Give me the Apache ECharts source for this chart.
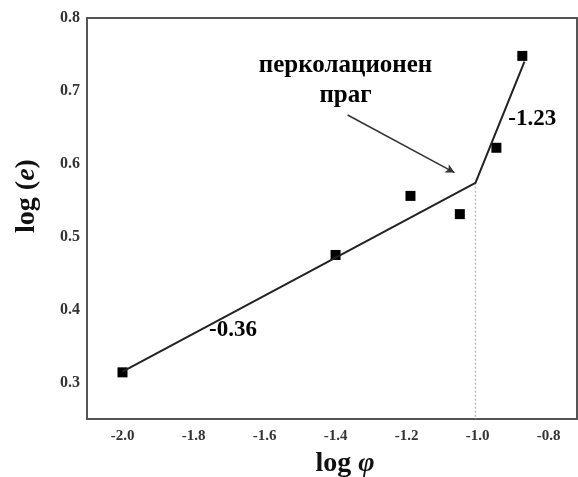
<!DOCTYPE html>
<html><head><meta charset="utf-8">
<script src="https://cdn.jsdelivr.net/npm/echarts@6/dist/echarts.min.js"></script>
<style>html,body{margin:0;padding:0;background:#fff}#c{width:578px;height:477px}</style>
</head><body><div id="c"></div>
<script>
// data
const pointsX = [-2.0, -1.4, -1.189, -1.05, -0.947, -0.874];
const pointsY = [0.314, 0.475, 0.556, 0.531, 0.622, 0.748];
const fitX = [-2.0, -1.006, -0.868];
const fitY = [0.315, 0.574, 0.740];
const thresholdX = -1.006;
const arrowFrom = [-1.366, 0.667];
const arrowTo = [-1.065, 0.588];
const annotations = [
  {text: 'перколационен\nпраг', x: -1.372, y: 0.714, size: 25},
  {text: '-1.23', x: -0.846, y: 0.661, size: 23},
  {text: '-0.36', x: -1.689, y: 0.372, size: 23}
];
const xMin = -2.1, xMax = -0.72, yMin = 0.25, yMax = 0.8;

const serif = '"Liberation Serif","DejaVu Serif",serif';
const nameRich = {
  a: {fontFamily: serif, fontWeight: 'bold', fontSize: 28, fill: '#111', color: '#111'},
  b: {fontFamily: serif, fontWeight: 'bold', fontStyle: 'italic', fontSize: 28, fill: '#111', color: '#111'}
};
const chart = echarts.init(document.getElementById('c'));
chart.setOption({
  animation: false,
  backgroundColor: '#fff',
  grid: {left: 87, top: 18, right: 1, bottom: 58, show: true, borderColor: '#555', borderWidth: 2,
         containLabel: false, outerBoundsMode: 'none'},
  graphic: [
    {type: 'text', x: 345, y: 464, style: {text: '{a|log }{b|φ}', rich: nameRich, align: 'center', verticalAlign: 'middle'}},
    {type: 'text', x: 27, y: 196, rotation: Math.PI / 2,
     style: {text: '{a|log (}{b|e}{a|)}', rich: nameRich, align: 'center', verticalAlign: 'middle'}}
  ],
  xAxis: {
    type: 'value', min: xMin, max: xMax, interval: 0.1,
    splitLine: {show: false}, axisTick: {show: false},
    axisLine: {lineStyle: {color: '#555', width: 2}},
    axisLabel: {
      color: '#333', fontFamily: serif, fontWeight: 'bold', fontSize: 15, margin: 10,
      formatter: v => (Math.round(v * 10) % 2 === 0 ? v.toFixed(1) : '')
    }
  },
  yAxis: {
    type: 'value', min: yMin, max: yMax, interval: 0.05,
    splitLine: {show: false}, axisTick: {show: false},
    axisLine: {lineStyle: {color: '#555', width: 2}},
    axisLabel: {
      color: '#333', fontFamily: serif, fontWeight: 'bold', fontSize: 16, margin: 7,
      formatter: v => (Math.round(v * 100) % 10 === 0 ? v.toFixed(1) : '')
    }
  },
  series: [
    {
      type: 'line', data: [[thresholdX, fitY[1]], [thresholdX, yMin]],
      symbol: 'none', lineStyle: {color: '#bbb', width: 1.5, type: [2, 2]}, silent: true
    },
    {
      type: 'line', data: fitX.map((x, i) => [x, fitY[i]]),
      symbol: 'none', lineStyle: {color: '#222', width: 2}
    },
    {
      type: 'scatter', data: pointsX.map((x, i) => [x, pointsY[i]]),
      symbol: 'rect', symbolSize: 10, itemStyle: {color: '#000', opacity: 1}
    },
    {
      type: 'line', data: [], symbol: 'none',
      markLine: {
        silent: true, symbol: ['none', 'arrow'], symbolSize: [7, 9],
        lineStyle: {color: '#333', width: 1.5, type: 'solid'}, label: {show: false},
        data: [[{coord: arrowFrom}, {coord: arrowTo}]]
      }
    },
    {
      type: 'scatter', symbolSize: 0, silent: true, itemStyle: {opacity: 1},
      data: annotations.map(a => ({value: [a.x, a.y], label: {formatter: a.text, fontSize: a.size}})),
      label: {
        show: true, position: 'inside', color: '#000', fontFamily: serif,
        fontWeight: 'bold', lineHeight: 30, align: 'center'
      }
    }
  ]
});
</script></body></html>
